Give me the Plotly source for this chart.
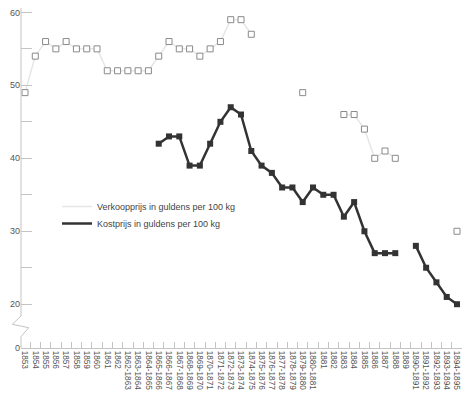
import plotly.graph_objects as go

categories = ["1853", "1854", "1855", "1856", "1857", "1858", "1859", "1860", "1861", "1862",
              "1862-1863", "1863-1864", "1864-1865", "1865-1866", "1866-1867", "1867-1868",
              "1868-1869", "1869-1870", "1870-1871", "1871-1872", "1872-1873", "1873-1874",
              "1874-1875", "1875-1876", "1876-1877", "1877-1878", "1878-1879", "1879-1880",
              "1880-1881", "1881", "1882", "1883", "1884", "1885", "1886", "1887", "1888",
              "1889", "1890-1891", "1891-1892", "1892-1893", "1893-1894", "1894-1895"]

verkoopprijs = [49, 54, 56, 55, 56, 55, 55, 55, 52, 52,
                52, 52, 52, 54, 56, 55,
                55, 54, 55, 56, 59, 59,
                57, None, None, None, None, 49,
                None, None, None, 46, 46, 44, 40, 41, 40,
                None, None, None, None, None, 30]

kostprijs = [None, None, None, None, None, None, None, None, None, None,
             None, None, None, 42, 43, 43,
             39, 39, 42, 45, 47, 46,
             41, 39, 38, 36, 36, 34,
             36, 35, 35, 32, 34, 30, 27, 27, 27,
             None, 28, 25, 23, 21, 20]

name_verkoop = "Verkoopprijs in guldens per 100 kg"
name_kost = "Kostprijs in guldens per 100 kg"

# y-axis with a break: the "0" label sits at value 14
y_break_value = 14
ytick_vals = [y_break_value, 20, 25, 30, 35, 40, 45, 50, 55, 60]
ytick_text = ["0", "20", "", "30", "", "40", "", "50", "", "60"]

axis_color = "#c4c4c4"
text_color = "#555555"
font_family = "Liberation Sans, Arial, sans-serif"

# page body adds an 8px offset; keep everything inside the visible window
OFF = 8
PLOT_LEFT_ABS, PLOT_RIGHT_ABS = 21, 462
PLOT_TOP_ABS, PLOT_BOTTOM_ABS = 8, 348
FIG_W, FIG_H = PLOT_RIGHT_ABS - OFF, 395 - OFF
W = PLOT_RIGHT_ABS - PLOT_LEFT_ABS
H = PLOT_BOTTOM_ABS - PLOT_TOP_ABS


def px(p):
    return (p - PLOT_LEFT_ABS) / W


def py(p):
    return (PLOT_BOTTOM_ABS - p) / H


fig = go.Figure()

fig.add_trace(go.Scatter(
    x=categories, y=verkoopprijs, mode="lines+markers", showlegend=False,
    line=dict(color="#e6e6e6", width=1.5),
    marker=dict(symbol="square", size=6, color="white", line=dict(color="#8a8a8a", width=1)),
    connectgaps=False, cliponaxis=False,
))
fig.add_trace(go.Scatter(
    x=categories, y=kostprijs, mode="lines+markers", showlegend=False,
    line=dict(color="#333333", width=2.5),
    marker=dict(symbol="square", size=6, color="#333333"),
    connectgaps=False, cliponaxis=False,
))
# legend entries (line samples only), one legend each for exact spacing
fig.add_trace(go.Scatter(x=[None], y=[None], mode="lines", name=name_verkoop,
                         line=dict(color="#e6e6e6", width=1.5), legend="legend"))
fig.add_trace(go.Scatter(x=[None], y=[None], mode="lines", name=name_kost,
                         line=dict(color="#333333", width=2.5), legend="legend2"))

# y-axis line with zigzag break
ax = PLOT_LEFT_ABS
path = (f"M {px(ax)},{py(8)} L {px(ax)},{py(316)} L {px(ax - 8.7)},{py(324.3)} "
        f"L {px(ax + 7.7)},{py(327.7)} L {px(ax)},{py(336.7)} L {px(ax)},{py(348)}")
fig.add_shape(type="path", path=path, xref="paper", yref="paper",
              line=dict(color=axis_color, width=1))

legend_common = dict(xanchor="left", yanchor="top", bgcolor="rgba(0,0,0,0)",
                     font=dict(family=font_family, size=9, color="#444444"),
                     itemwidth=30, borderwidth=0)

fig.update_layout(
    width=FIG_W, height=FIG_H,
    margin=dict(l=PLOT_LEFT_ABS - OFF, r=0, t=PLOT_TOP_ABS - OFF, b=FIG_H - (PLOT_BOTTOM_ABS - OFF)),
    paper_bgcolor="white", plot_bgcolor="white",
    font=dict(family=font_family, size=9, color=text_color),
    showlegend=True,
    legend=dict(x=px(57), y=py(192), **legend_common),
    legend2=dict(x=px(57), y=py(209), **legend_common),
    xaxis=dict(
        type="category", categoryorder="array", categoryarray=categories,
        range=[-0.389, 42.486], showgrid=False, zeroline=False,
        showline=True, linecolor=axis_color, linewidth=1,
        ticks="inside", ticklen=6, tickcolor=axis_color, tickson="boundaries",
        tickangle=90, tickfont=dict(size=8.2, color=text_color),
        ticklabeloverflow="allow", automargin=False,
    ),
    yaxis=dict(
        range=[y_break_value, 60.6], showgrid=False, zeroline=False,
        showline=False, tickmode="array", tickvals=ytick_vals, ticktext=ytick_text,
        ticks="inside", ticklen=11, tickcolor=axis_color,
        tickfont=dict(size=9, color=text_color), ticklabeloverflow="allow",
        automargin=False,
    ),
)

fig.write_html("out.html")
